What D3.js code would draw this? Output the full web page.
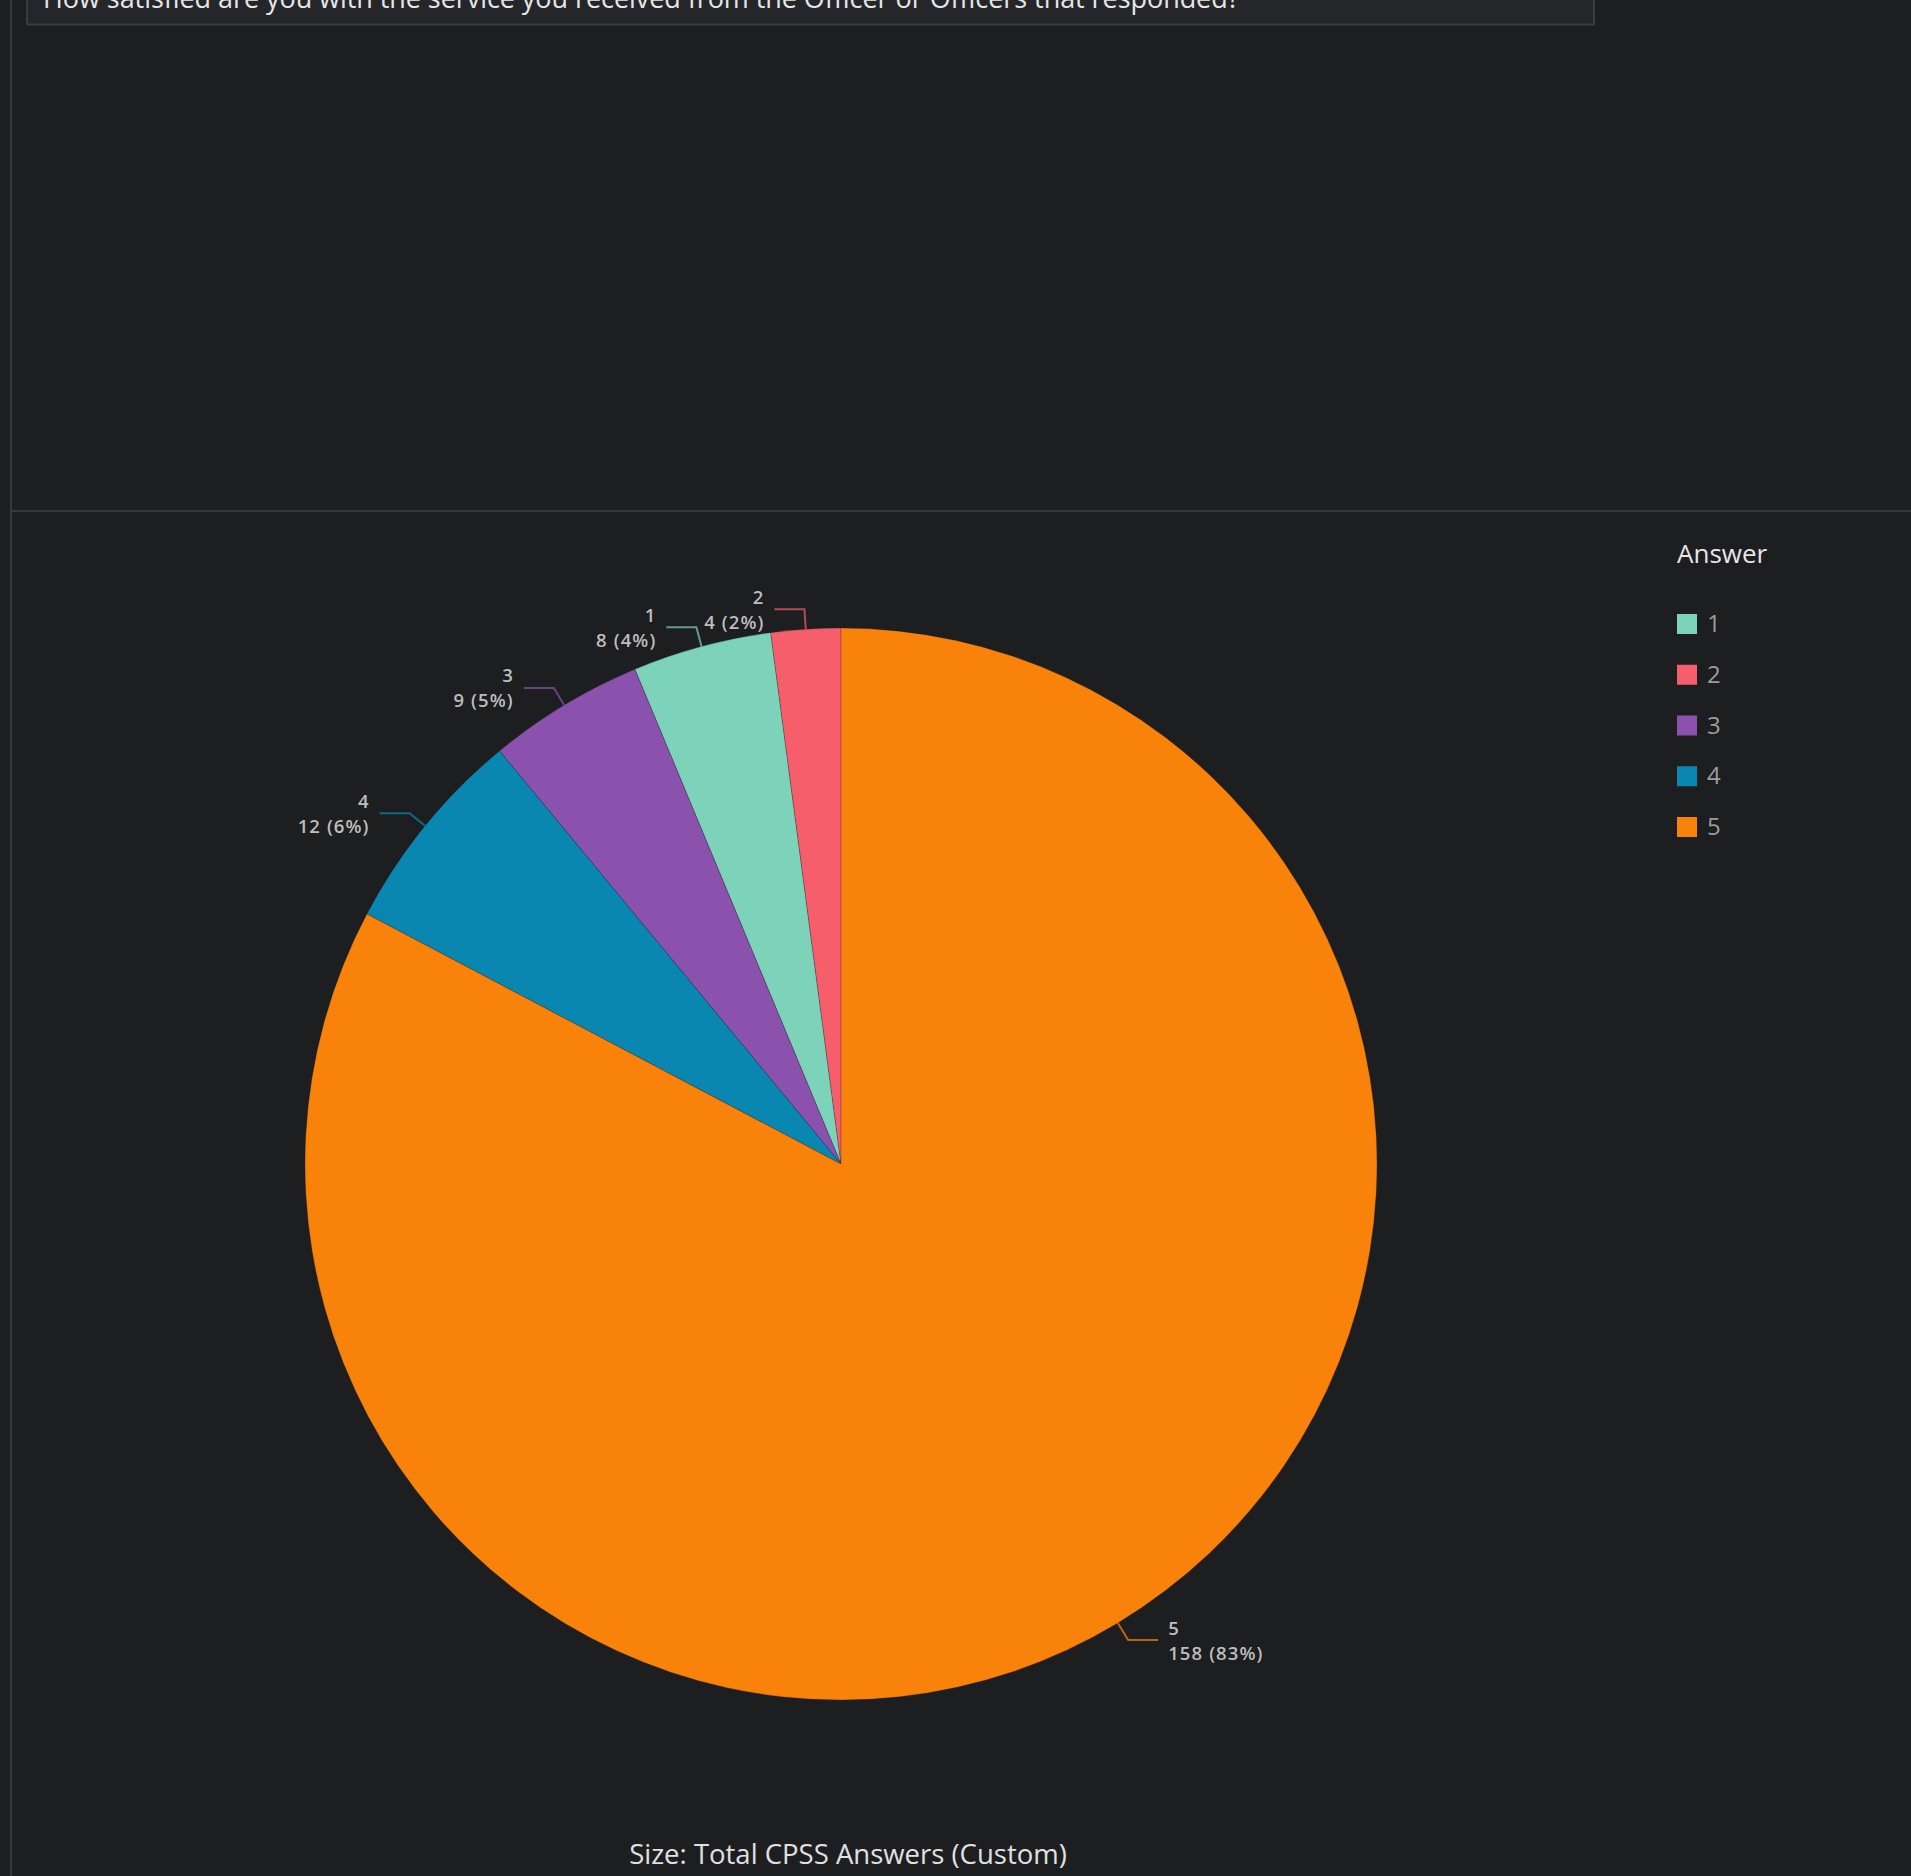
<!DOCTYPE html>
<html>
<head>
    <meta charset="utf-8">
    <title>Pie - CPSS Answers</title>
    <script src="https://d3js.org/d3.v7.min.js"></script>
    <style>
        body { margin: 0; background: #1d1e20; }
        text { font-family: "Open Sans", "Noto Sans", sans-serif; }
    </style>
</head>
<body>
<div id="chart"></div>
<script type="text/javascript">

    // data
    const answers = ["1", "2", "3", "4", "5"];
    const counts = [8, 4, 9, 12, 158];
    const sliceColors = ["#7dd3b9", "#f65e6b", "#8a51ad", "#0a87b0", "#f9820b"];

    const title = "How satisfied are you with the service you received from the Officer or Officers that responded?";
    const legendTitle = "Answer";
    const caption = "Size: Total CPSS Answers (Custom)";

    let W = 1911, H = 1876;
    let cx = 841, cy = 1164, r = 536;

    let svg = d3.select("#chart")
        .append("svg")
            .attr("width", W)
            .attr("height", H);

    svg.append("rect")
        .attr("width", W).attr("height", H)
        .attr("fill", "#1d1e20");

    // panel lines
    svg.append("line")
        .attr("x1", 11).attr("x2", 11).attr("y1", 0).attr("y2", H)
        .attr("stroke", "#37383b").attr("stroke-width", 2);
    svg.append("line")
        .attr("x1", 11).attr("x2", W).attr("y1", 511).attr("y2", 511)
        .attr("stroke", "#37383b").attr("stroke-width", 2);

    // title box, scrolled so only its bottom shows
    svg.append("rect")
        .attr("x", 27).attr("y", -10)
        .attr("width", 1567).attr("height", 34.5)
        .attr("fill", "#252629")
        .attr("stroke", "#3a3b3e").attr("stroke-width", 2);
    svg.append("text")
        .attr("x", 43).attr("y", 8)
        .attr("font-size", "27px")
        .attr("letter-spacing", "-0.06px")
        .attr("fill", "#e6e6e6")
        .text(title);

    let data = answers.map((a, i) => ({answer: a, count: counts[i]}));
    let total = d3.sum(counts);

    let color = d3.scaleOrdinal().domain(answers).range(sliceColors);

    let pie = d3.pie()
        .value(d => d.count)
        .sort((a, b) => b.count - a.count);

    let arc = d3.arc().innerRadius(0).outerRadius(r);
    let arcs = pie(data);

    let g = svg.append("g")
        .attr("transform", "translate(" + cx + "," + cy + ")");

    g.selectAll("path.slice")
        .data(arcs)
        .enter()
        .append("path")
        .attr("class", "slice")
        .attr("d", arc)
        .attr("fill", d => color(d.data.answer))
        .attr("stroke", "#1d1e20")
        .attr("stroke-opacity", 0.4)
        .attr("stroke-width", 0.6);

    // leader lines + labels
    function pt(a, rad) {
        return [rad * Math.sin(a), -rad * Math.cos(a)];
    }

    arcs.forEach(function(d) {
        let a = (d.startAngle + d.endAngle) / 2;
        let right = Math.sin(a) >= 0;
        let p0 = pt(a, r);
        let p1 = pt(a, r + 20);
        let p2 = [p1[0] + (right ? 30 : -30), p1[1]];
        let tx = p2[0] + (right ? 10 : -10);
        let pct = Math.round(d.data.count / total * 100);

        g.append("polyline")
            .attr("points", [p0, p1, p2].map(p => p.join(",")).join(" "))
            .attr("fill", "none")
            .attr("stroke", color(d.data.answer))
            .attr("stroke-opacity", 0.7)
            .attr("stroke-width", 2);

        let t = g.append("text")
            .attr("text-anchor", right ? "start" : "end")
            .attr("font-size", "18.5px")
            .attr("font-weight", 600)
            .attr("letter-spacing", "1.1px")
            .attr("fill", "#bdbdbd");
        t.append("tspan")
            .attr("x", tx).attr("y", p1[1] - 5.5)
            .text(d.data.answer);
        t.append("tspan")
            .attr("x", tx).attr("y", p1[1] + 19.5)
            .text(d.data.count + " (" + pct + "%)");
    });

    // legend
    svg.append("text")
        .attr("x", 1677).attr("y", 563)
        .attr("font-size", "26px")
        .attr("fill", "#e6e6e6")
        .text(legendTitle);

    let ly = d3.scalePoint().domain(answers).range([614, 817]);

    let items = svg.selectAll("g.legend")
        .data(answers)
        .enter()
        .append("g")
        .attr("class", "legend")
        .attr("transform", d => "translate(1677," + ly(d) + ")");
    items.append("rect")
        .attr("width", 20).attr("height", 20)
        .attr("fill", d => color(d));
    items.append("text")
        .attr("x", 30).attr("y", 18)
        .attr("font-size", "24px")
        .attr("fill", "#9c9c9c")
        .text(d => d);

    // size caption
    svg.append("text")
        .attr("x", 848).attr("y", 1864)
        .attr("text-anchor", "middle")
        .attr("font-size", "27.5px")
        .attr("fill", "#e0e0e0")
        .text(caption);

</script>
</body>
</html>
